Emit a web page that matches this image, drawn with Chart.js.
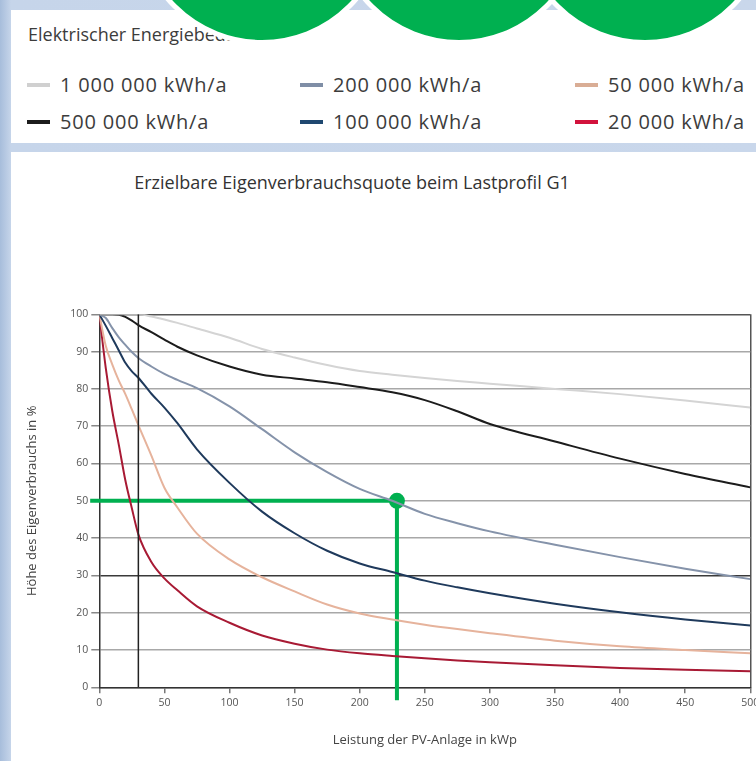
<!DOCTYPE html>
<html lang="de">
<head>
<meta charset="utf-8">
<title>Erzielbare Eigenverbrauchsquote beim Lastprofil G1</title>
<script src="https://cdn.jsdelivr.net/npm/chart.js@4.4.1/dist/chart.umd.min.js"></script>
<style>
  html, body { margin: 0; padding: 0; }
  body {
    width: 756px; height: 761px; overflow: hidden; position: relative;
    background: linear-gradient(to right, #a7bddb 0px, #c6d5ea 11px, #c9d7eb 100%);
    font-family: "Open Sans", sans-serif; color: #3c3c3c;
  }
  .panel { position: absolute; left: 11px; background: #fff; }
  #legende { top: 10px; width: 760px; height: 133px; }
  #legende .kopf { position: absolute; left: 17px; top: 12px; font-size: 18px; line-height: 24px; }
  #legende .eintrag { position: absolute; font-size: 20px; line-height: 26px; letter-spacing: 0.8px; white-space: nowrap; }
  #legende .strich { display: inline-block; width: 23px; height: 4px; margin-right: 10px; vertical-align: middle; position: relative; top: -2px; }
  .kreis { position: absolute; top: -207px; width: 242px; height: 242px; border-radius: 50%; background: #00b050; border: 5px solid #fff; }
  #diagramm { top: 152px; width: 765px; height: 609px; }
  #titel { position: absolute; left: 0; top: 19px; width: 682px; text-align: center; font-size: 18px; line-height: 22px; color: #333; }
  #box { position: absolute; left: 0; top: 0; width: 765px; height: 609px; }
</style>
</head>
<body>

<div class="panel" id="legende">
  <div class="kopf">Elektrischer Energiebedarf</div>
</div>
<div class="kreis" style="left:136px"></div>
<div class="kreis" style="left:333px"></div>
<div class="kreis" style="left:519px"></div>

<div class="panel" id="diagramm">
  <div id="titel">Erzielbare Eigenverbrauchsquote beim Lastprofil G1</div>
  <div id="box"><canvas id="chart-g1"></canvas></div>
</div>

<script>
// Leistung der PV-Anlage in kWp (x-Stuetzstellen)
const leistung = [0, 5, 10, 15, 20, 25, 30, 40, 50, 60, 75, 100, 125, 150, 175, 200, 225, 250, 275, 300, 350, 400, 450, 500];

// Eigenverbrauch in % je Jahresverbrauch
const quote1000000 = [100, 100, 100, 100, 100, 100, 100, 99.4, 98.6, 97.7, 96.2, 93.7, 90.7, 88.4, 86.4, 84.8, 83.8, 82.9, 82.1, 81.4, 80.0, 78.6, 76.9, 75.0];
const quote500000 = [100, 100, 100, 99.9, 99.3, 98.3, 97.1, 95.2, 93.2, 91.3, 89.0, 86.0, 83.8, 82.8, 81.8, 80.5, 79.1, 77.0, 74.0, 70.6, 65.9, 61.3, 57.2, 53.6];
const quote200000 = [100, 99.0, 96.3, 93.8, 91.8, 89.9, 88.3, 86.0, 84.0, 82.4, 80.2, 75.3, 69.2, 63.0, 57.7, 53.2, 50.0, 46.5, 44.0, 41.8, 38.2, 34.9, 31.8, 29.0];
const quote100000 = [100, 96.9, 93.6, 90.3, 87.0, 84.7, 83.0, 78.7, 75.0, 70.8, 63.8, 54.8, 47.1, 41.3, 36.6, 33.2, 30.9, 28.6, 26.8, 25.2, 22.4, 20.1, 18.2, 16.6];
const quote50000 = [100, 91.5, 86.5, 82.2, 78.6, 74.5, 70.3, 62.1, 53.5, 48.2, 41.2, 34.3, 29.5, 25.7, 22.2, 19.8, 18.2, 16.8, 15.6, 14.5, 12.5, 11.0, 10.0, 9.1];
const quote20000 = [100, 85.5, 74.0, 65.0, 55.5, 48.0, 41.0, 33.6, 29.2, 26.0, 21.7, 17.3, 13.9, 11.7, 10.1, 9.1, 8.4, 7.8, 7.2, 6.7, 5.9, 5.2, 4.7, 4.3];

const legendenNamen = ["1 000 000 kWh/a", "500 000 kWh/a", "200 000 kWh/a", "100 000 kWh/a", "50 000 kWh/a", "20 000 kWh/a"];
const legendenFarben = ["#d4d4d4", "#1c1c1c", "#8593aa", "#1f3a5c", "#e6b39c", "#a81a34"];
const legendenStrich = ["#d0d0d0", "#1c1c1c", "#7f8ea6", "#1f4870", "#d9ad95", "#d2123c"];

// Hilfslinie bei 30 kWp und gruene Markierung (Ablesebeispiel)
const hilfslinieX = [30, 30];
const hilfslinieY = [0, 100];
const markierungX = [-7, 228.6, 228.6];
const markierungY = [50, 50, -3.5];

const alleQuoten = [quote1000000, quote500000, quote200000, quote100000, quote50000, quote20000];

// legend (column-wise, 2 rows x 3 columns)
const legende = document.getElementById("legende");
const spaltenX = [16, 289, 564];
const zeilenY = [62, 99];
legendenNamen.forEach((name, i) => {
  const el = document.createElement("div");
  el.className = "eintrag";
  el.style.left = spaltenX[Math.floor(i / 2)] + "px";
  el.style.top = zeilenY[i % 2] + "px";
  el.innerHTML = `<span class="strich" style="background:${legendenStrich[i]}"></span>${name}`;
  legende.appendChild(el);
});

function punkte(xs, ys) {
  return xs.map((x, i) => ({ x: x, y: ys[i] }));
}

const kurven = alleQuoten.map((werte, i) => ({
  label: legendenNamen[i],
  data: punkte(leistung, werte),
  borderColor: legendenFarben[i],
  backgroundColor: legendenFarben[i],
  borderWidth: 2,
  pointRadius: 0,
  cubicInterpolationMode: "monotone",
}));

const ctxG1 = document.getElementById("chart-g1");
new Chart(ctxG1, {
  type: "line",
  data: {
    datasets: [
      {
        label: "30 kWp",
        data: punkte(hilfslinieX, hilfslinieY),
        borderColor: "#222",
        borderWidth: 1.5,
        pointRadius: 0,
      },
      ...kurven,
      {
        label: "Markierung",
        data: punkte(markierungX, markierungY),
        borderColor: "#00b050",
        backgroundColor: "#00b050",
        borderWidth: 4,
        pointRadius: (c) => (c.dataIndex === 1 ? 6 : 0),
        clip: false,
      },
    ],
  },
  options: {
    responsive: true,
    maintainAspectRatio: false,
    animation: false,
    layout: { padding: { top: 162.3, right: 25.7, bottom: 0, left: 0 } },
    plugins: {
      legend: { display: false },
      tooltip: { enabled: false },
    },
    scales: {
      x: {
        type: "linear",
        min: 0,
        max: 500,
        afterFit: (scale) => { scale.height = 73.7; },
        ticks: { stepSize: 50, autoSkip: false, maxRotation: 0, padding: 3, color: "#555", font: { family: "Open Sans", size: 10.5 } },
        grid: {
          color: (c) => (c.tick && c.tick.value === 500 ? "#555" : "rgba(0,0,0,0)"),
          tickColor: "#777",
          tickLength: 6,
          lineWidth: 1.5,
        },
        border: { color: "#333", width: 1.5 },
        title: { display: true, text: "Leistung der PV-Anlage in kWp", color: "#444", font: { family: "Open Sans", size: 13 }, padding: { top: 0, bottom: 13.2 } },
      },
      y: {
        min: 0,
        max: 100,
        afterFit: (scale) => { scale.width = 88.3; },
        ticks: { stepSize: 10, padding: 3, color: "#555", font: { family: "Open Sans", size: 10.5 } },
        grid: {
          color: (c) => {
            if (!c.tick) return "#a8a8a8";
            if (c.tick.value === 30) return "#3a3a3a";
            if (c.tick.value === 100) return "#555";
            return "#a8a8a8";
          },
          tickColor: "#888",
          tickLength: 8,
          lineWidth: 1.5,
        },
        border: { color: "#333", width: 1.5 },
        title: { display: true, text: "Höhe des Eigenverbrauchs in %", color: "#444", font: { family: "Open Sans", size: 13 }, padding: { top: 13.2, bottom: 0 } },
      },
    },
  },
});
</script>
</body>
</html>
